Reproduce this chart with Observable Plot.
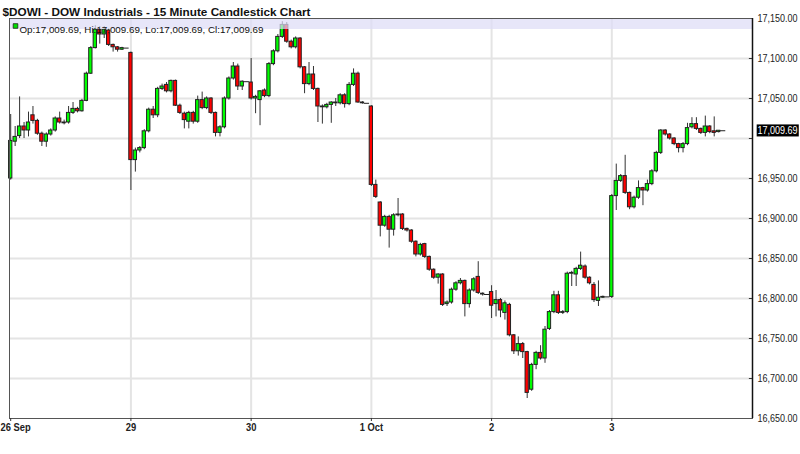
<!DOCTYPE html>
<html>
<head>
<meta charset="utf-8">
<script src="https://cdn.jsdelivr.net/npm/d3@7"></script>
<script src="https://cdn.jsdelivr.net/npm/@observablehq/plot@0.6"></script>
<style>
  html, body { margin: 0; padding: 0; background: #fff; }
  #chart { width: 800px; height: 454px; overflow: hidden; }
</style>
</head>
<body>
<div id="chart"></div>
<script>
// ---- Data (15-minute candles, $DOWI) ----
const titleText = "$DOWI - DOW Industrials - 15 Minute Candlestick Chart";
const dayLabels = ["26 Sep", "29", "30", "1 Oct", "2", "3"];
const candlesPerDay = [26, 26, 26, 26, 26, 25];
const slotsPerDay = 27;

const open = [
  // 26 Sep
  16950,16996,17003,17015,17010,17029,17022,17006,16996,17005,17010,17025,17020,17020,17032,17037,17034,17047,17081,17113,17136,17130,17135,17117,17114,17111,
  // 29 Sep
  17107,16973,16985,16988,17009,17036,17029,17062,17067,17059,17072,17041,17031,17021,17032,17021,17048,17038,17050,17032,17007,17014,17050,17075,17090,17065,
  // 30 Sep
  17070,17050,17048,17060,17053,17093,17109,17127,17142,17121,17114,17125,17089,17068,17080,17062,17040,17039,17042,17045,17044,17054,17043,17067,17081,17045,
  // 1 Oct
  17040,16942,16920,16891,16902,16886,16904,16905,16887,16885,16871,16855,16868,16852,16836,16826,16830,16793,16795,16811,16819,16822,16793,16810,16827,16806,
  // 2 Oct
  16808,16793,16798,16782,16792,16754,16734,16743,16733,16686,16717,16732,16725,16762,16783,16804,16782,16783,16831,16830,16837,16840,16826,16817,16797,16801,
  // 3 Oct
  16802,16928,16947,16953,16932,16914,16926,16938,16935,16943,16959,16982,17010,17005,17000,16993,16988,16993,17014,17018,17012,17007,17015,17009,17008
];
const high = [
  17030,17015,17052,17020,17033,17040,17024,17008,17007,17012,17027,17033,17023,17040,17045,17039,17049,17083,17115,17141,17140,17140,17137,17118,17115,17114,
  17108,16988,16990,17011,17038,17040,17064,17068,17070,17073,17073,17043,17033,17034,17034,17053,17058,17052,17051,17033,17016,17052,17077,17095,17093,17072,
  17100,17054,17060,17062,17095,17111,17130,17146,17145,17123,17127,17126,17090,17095,17090,17063,17042,17044,17046,17050,17056,17056,17070,17087,17083,17046,
  17041,16948,16921,16904,16904,16906,16925,16906,16888,16886,16872,16869,16869,16853,16837,16831,16831,16797,16813,16821,16825,16823,16812,16826,16846,16807,
  16816,16810,16800,16797,16794,16755,16752,16745,16734,16719,16734,16741,16765,16785,16809,16809,16785,16833,16834,16839,16858,16842,16827,16820,16822,16803,
  16930,16968,16955,16979,16933,16928,16947,16939,16948,16961,16984,17011,17011,17006,17001,16994,16995,17019,17026,17026,17013,17028,17016,17027,17010
];
const low = [
  16948,16990,17000,17000,17002,17018,17004,16990,16989,17003,17008,17018,17017,17018,17030,17032,17033,17046,17080,17112,17118,17125,17115,17108,17108,17110,
  16935,16958,16982,16986,17007,17025,17026,17060,17057,17057,17040,17030,17012,17012,17018,17019,17036,17036,17030,17002,17002,17012,17048,17073,17060,17060,
  17048,17031,17016,17051,17051,17091,17107,17125,17119,17112,17112,17087,17056,17066,17060,17020,17018,17037,17019,17040,17042,17038,17041,17065,17044,17043,
  16940,16925,16877,16889,16863,16878,16902,16885,16883,16869,16852,16853,16850,16834,16824,16818,16790,16790,16793,16809,16817,16777,16788,16808,16805,16803,
  16775,16777,16776,16773,16752,16730,16728,16725,16675,16684,16711,16723,16719,16760,16781,16780,16780,16781,16815,16815,16835,16824,16817,16795,16790,16800,
  16800,16910,16945,16930,16911,16912,16924,16916,16933,16941,16957,16980,17003,16998,16991,16982,16982,16991,17012,17010,17005,17002,17006,17002,17007
];
const close = [
  16997,17002,17015,17010,17020,17022,17006,16996,17005,17010,17025,17020,17019,17032,17037,17034,17047,17081,17113,17136,17130,17136,17117,17114,17111,17113,
  16973,16985,16988,17009,17036,17029,17062,17065,17059,17072,17041,17032,17023,17032,17021,17048,17038,17050,17032,17007,17014,17050,17075,17090,17065,17071,
  17050,17052,17059,17053,17093,17109,17127,17142,17121,17114,17125,17089,17068,17080,17062,17040,17039,17042,17045,17044,17054,17043,17067,17081,17045,17044,
  16942,16927,16891,16902,16886,16904,16905,16887,16885,16871,16855,16867,16852,16836,16826,16830,16792,16795,16811,16819,16822,16793,16810,16824,16807,16805,
  16791,16798,16785,16794,16754,16734,16743,16733,16682,16717,16732,16725,16761,16783,16804,16782,16783,16831,16832,16837,16841,16826,16819,16798,16801,16802,
  16928,16947,16953,16932,16914,16926,16938,16935,16943,16959,16982,17010,17005,17000,16993,16988,16993,17013,17018,17012,17007,17015,17008,17007,17009.69
];
const lastPrice = 17009.69;
const yTickValues = [16650,16700,16750,16800,16850,16900,16950,17000,17050,17100,17150];

// ---- Build table ----
const candles = [];
let k = 0;
candlesPerDay.forEach((n, d) => {
  for (let j = 0; j < n; j++, k++) {
    candles.push({slot: d * slotsPerDay + j, open: open[k], high: high[k], low: low[k], close: close[k]});
  }
});
// closing prints (flat line after each session's last candle)
const prints = [];
{
  let idx = -1;
  candlesPerDay.forEach((n) => {
    idx += n;
    const c = candles[idx];
    prints.push({x1: c.slot + 0.4, x2: c.slot + 1.6, y: c.close});
  });
}
const dayTicks = dayLabels.map((_, d) => d * slotsPerDay);
const gridY = yTickValues.slice(1, -1);
const labelTicks = yTickValues.filter(v => Math.abs(v - lastPrice) > 12);
const yMin = yTickValues[0], yMax = yTickValues[yTickValues.length - 1];
const fmt = d3.format(",.2f");
const legendText = `Op:${fmt(lastPrice)}, Hi:${fmt(lastPrice)}, Lo:${fmt(lastPrice)}, Cl:${fmt(lastPrice)}`;

const sans = "'Liberation Sans', Arial, sans-serif";
const half = 0.37;
const xDom = [-0.27, 166.6];

const chart = Plot.plot({
  width: 800,
  height: 454,
  marginLeft: 9,
  marginRight: 48,
  marginTop: 18,
  marginBottom: 36,
  style: {fontFamily: sans, fontSize: "11px", color: "#222", background: "#fff", overflow: "visible"},
  x: {type: "linear", domain: xDom},
  y: {domain: [yMin, yMax]},
  marks: [
    // grid
    Plot.ruleY(gridY, {stroke: "#e4e4e4", strokeWidth: 2}),
    Plot.ruleX(dayTicks.slice(1), {stroke: "#e4e4e4", strokeWidth: 2}),
    // wicks
    Plot.ruleX(candles, {x: "slot", y1: "low", y2: "high", stroke: "#333", strokeWidth: 1}),
    // bodies
    Plot.rect(candles, {
      x1: d => d.slot - half, x2: d => d.slot + half,
      y1: "open", y2: "close",
      fill: d => d.close >= d.open ? "#00ff00" : "#ff0000",
      stroke: "#222", strokeWidth: 1
    }),
    // closing prints
    Plot.ruleY(prints, {x1: "x1", x2: "x2", y: "y", stroke: "#222", strokeWidth: 1}),
    // legend band at top
    Plot.rect([0], {x1: xDom[0], x2: xDom[1], y1: yMax - 13.75, y2: yMax, fill: "#dedcf6", fillOpacity: 0.72}),
    Plot.dot([0], {frameAnchor: "top-left", dx: 6, dy: 7.5, symbol: "square", r: 2.6, fill: "#00e000", stroke: "#222", strokeWidth: 0.8}),
    Plot.text([legendText], {frameAnchor: "top-left", dx: 10, dy: 8, textAnchor: "start", fontSize: 9.5, fill: "#111", className: "legendtext"}),
    // frame
    Plot.frame({stroke: "#555", strokeWidth: 1}),
    Plot.ruleX([xDom[1]], {stroke: "#111", strokeWidth: 1.5}),
    // small inward ticks on right axis
    Plot.ruleY(gridY, {x1: xDom[1] - 0.7, x2: xDom[1], stroke: "#333", strokeWidth: 1}),
    // axes
    Plot.axisX({ticks: dayTicks, tickFormat: (v) => dayLabels[Math.round(v / slotsPerDay)], tickSize: 3, tickPadding: 2, fontWeight: "bold", fontSize: 11, label: null, stroke: "#333", className: "xlabels"}),
    Plot.axisY({anchor: "right", ticks: labelTicks, tickFormat: fmt, tickSize: 0, tickPadding: 5, label: null, fontSize: 11, className: "ylabels"}),
    // current price label
    Plot.text([lastPrice], {y: d => d, frameAnchor: "right", dx: 5, textAnchor: "start", fill: "#fff", fontSize: 11, text: d => fmt(d), className: "pricelabel"}),
    // title
    Plot.text([titleText], {frameAnchor: "top-left", dx: -7, dy: -11, textAnchor: "start", fontWeight: "bold", fontSize: 11.5, fill: "#111", className: "titletext"})
  ]
});

document.getElementById("chart").appendChild(chart);

// condensed look (narrow face) via horizontal scaling around each label's anchor
function narrowText(el, f) {
  const t = el.getAttribute("transform") || "";
  el.setAttribute("transform", (t + ` scale(${f},1)`).trim());
}
function fitText(el, width) {
  el.setAttribute("textLength", width);
  el.setAttribute("lengthAdjust", "spacingAndGlyphs");
}
chart.querySelectorAll('[aria-label="y-axis tick label"] text').forEach(el => narrowText(el, 0.82));
const xLabelEls = chart.querySelectorAll('[aria-label="x-axis tick label"] text');
xLabelEls.forEach(el => narrowText(el, 0.85));
// keep the first day label inside the picture
if (xLabelEls.length) {
  const el = xLabelEls[0];
  const left = el.getBoundingClientRect().left - chart.getBoundingClientRect().left;
  if (left < 0.5) {
    el.setAttribute("transform", `translate(${(0.5 - left).toFixed(2)},0) ` + el.getAttribute("transform"));
  }
}
chart.querySelectorAll('.titletext text').forEach(el => fitText(el, 308));
chart.querySelectorAll('.legendtext text').forEach(el => fitText(el, 244));

// black background behind the current price label
const priceText = chart.querySelector(".pricelabel text");
if (priceText) {
  narrowText(priceText, 0.82);
  const bb = priceText.getBBox();
  const r = document.createElementNS("http://www.w3.org/2000/svg", "rect");
  r.setAttribute("x", bb.x - 1);
  r.setAttribute("y", bb.y);
  r.setAttribute("width", bb.width + 2);
  r.setAttribute("height", bb.height);
  r.setAttribute("fill", "#000");
  const t = priceText.getAttribute("transform");
  if (t) r.setAttribute("transform", t);
  priceText.parentNode.insertBefore(r, priceText);
}
</script>
</body>
</html>
